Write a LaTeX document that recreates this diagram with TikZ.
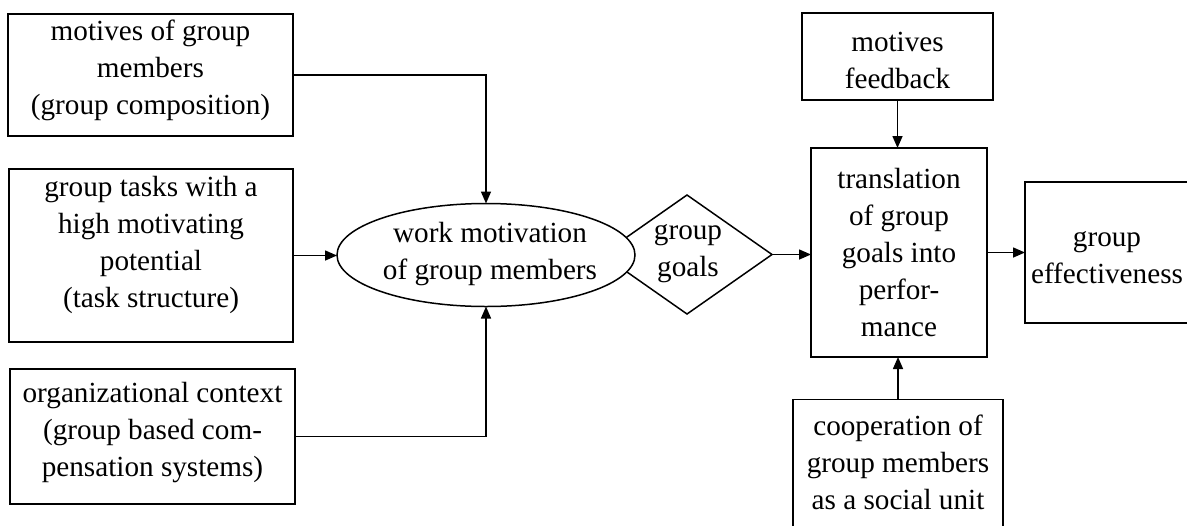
\documentclass[tikz,border=0pt]{standalone}
\usepackage{fontspec}
\setmainfont{Liberation Serif}
\usetikzlibrary{shapes.geometric,arrows.meta}
\begin{document}
\begin{tikzpicture}[x=0.5pt,y=-0.5pt,
  every node/.style={font=\fontsize{14.6pt}{18.5pt}\selectfont, align=center, inner sep=0pt, outer sep=0pt},
  box/.style={draw, line width=0.75pt, rectangle},
  shapeline/.style={draw, line width=0.75pt},
  arr/.style={line width=0.75pt, -{Triangle[length=6pt, width=5pt]}}]
\useasboundingbox (0,0) rectangle (1187,525);
\clip (0,0) rectangle (1187,525);
% input factors on the left
\node[box, minimum width=142.5pt, minimum height=61pt] (mot) at (150.5,75) {};
\node[yshift=2.5pt] (mottext) at (mot.center) {motives of group\\members\\(group composition)};
\node[box, minimum width=142pt, minimum height=86.5pt] (task) at (151,255.5) {};
\node[yshift=5.5pt] (tasktext) at (task.center) {group tasks with a\\high motivating\\potential\\(task structure)};
\node[box, minimum width=142.5pt, minimum height=67.5pt] (org) at (152.5,436.5) {};
\node[yshift=2pt] (orgtext) at (org.center) {organizational context\\(group based com-\\pensation systems)};
% group goals diamond, partly hidden behind the ellipse
\node[shapeline, diamond, minimum width=85pt, minimum height=59.5pt] (goal) at (687,254.5) {};
\node (goaltext) at (688,254) {group\\goals};
\node[shapeline, ellipse, fill=white, minimum width=149pt, minimum height=51.5pt] (wm) at (486,255) {};
\node (wmtext) at (490,254) {work motivation\\of group members};
% right part
\node[box, minimum width=95.5pt, minimum height=43.5pt] (fb) at (897.5,56.5) {};
\node[yshift=-2pt] (fbtext) at (fb.center) {motives\\feedback};
\node[box, minimum width=88pt, minimum height=104.5pt] (trans) at (899,252.5)
  {translation\\of group\\goals into\\perfor-\\mance};
\node[box, minimum width=82pt, minimum height=70.5pt] (eff) at (1107,252.5) {};
\node[yshift=-2.5pt] (efftext) at (eff.center) {group\\effectiveness};
\node[box, minimum width=105pt, minimum height=67.5pt] (coop) at (898,467) {};
\node[yshift=2.5pt] (cooptext) at (coop.center) {cooperation of\\group members\\as a social unit};
% connectors
\draw[arr] (mot.east) -| (wm.north);
\draw[arr] (task.east) -- (task.east -| wm.west);
\draw[arr] (org.east) -| (wm.south);
\draw[arr] (goal.east) -- (goal.east -| trans.west);
\draw[arr] (fb.south) -- (fb.south |- trans.north);
\draw[arr] (coop.north) -- (coop.north |- trans.south);
\draw[arr] (trans.east) -- (trans.east -| eff.west);
\end{tikzpicture}
\end{document}
